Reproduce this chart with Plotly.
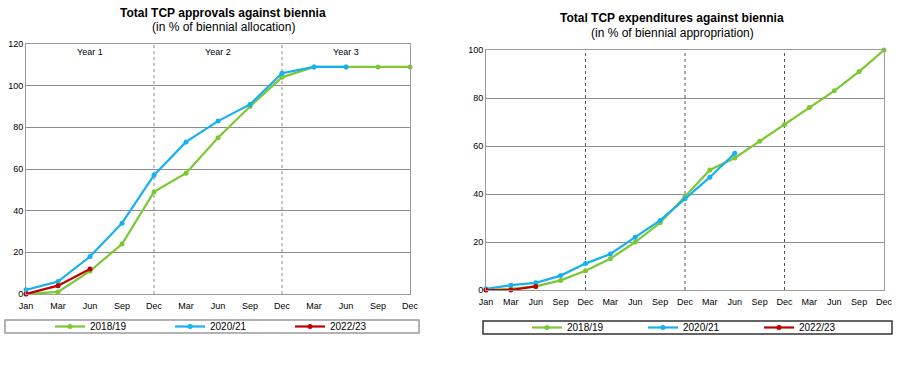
import plotly.graph_objects as go

# ---- data ----
months_left = ["Jan", "Mar", "Jun", "Sep", "Dec", "Mar", "Jun", "Sep", "Dec", "Mar", "Jun", "Sep", "Dec"]
months_right = ["Jan", "Mar", "Jun", "Sep", "Dec", "Mar", "Jun", "Sep", "Dec",
                "Mar", "Jun", "Sep", "Dec", "Mar", "Jun", "Sep", "Dec"]

appr_2018_19 = [0, 1, 11, 24, 49, 58, 75, 90, 104, 109, 109, 109, 109]
appr_2020_21 = [2, 6, 18, 34, 57, 73, 83, 91, 106, 109, 109]
appr_2022_23 = [0, 4, 12]

exp_2018_19 = [0, 0.5, 1.5, 4, 8, 13, 20, 28, 39, 50, 55, 62, 69, 76, 83, 91, 100]
exp_2020_21 = [0.5, 2, 3, 6, 11, 15, 22, 29, 38, 47, 57]
exp_2022_23 = [0, 0, 1.5]

year_labels = ["Year 1", "Year 2", "Year 3"]
series_names = ["2018/19", "2020/21", "2022/23"]
colors = ["#7DC734", "#16B0EE", "#C00000"]

FONT = "Liberation Sans, Arial, sans-serif"
W, H = 900, 369

fig = go.Figure()

left_series = [appr_2018_19, appr_2020_21, appr_2022_23]
right_series = [exp_2018_19, exp_2020_21, exp_2022_23]

for name, vals, col in zip(series_names, left_series, colors):
    fig.add_trace(go.Scatter(
        x=list(range(len(vals))), y=vals, name=name, mode="lines+markers",
        line=dict(color=col, width=2.2), marker=dict(color=col, size=5),
        cliponaxis=False, xaxis="x", yaxis="y", legend="legend"))

for name, vals, col in zip(series_names, right_series, colors):
    fig.add_trace(go.Scatter(
        x=list(range(len(vals))), y=vals, name=name, mode="lines+markers",
        line=dict(color=col, width=2.2), marker=dict(color=col, size=5),
        cliponaxis=False, xaxis="x2", yaxis="y2", legend="legend2"))

def px_x(p):
    return p / W

def px_y(p):
    return 1 - p / H

axis_common = dict(showgrid=False, zeroline=False, showline=True, linecolor="#9a9a9a",
                   linewidth=1, mirror=True, fixedrange=True,
                   tickfont=dict(family=FONT, size=9, color="#000"))

fig.update_layout(
    width=W, height=H, margin=dict(l=0, r=0, t=0, b=0, autoexpand=False),
    paper_bgcolor="white", plot_bgcolor="white",
    font=dict(family=FONT, color="#000"),
    xaxis=dict(axis_common, domain=[px_x(26), px_x(410)], range=[0, len(months_left) - 1],
               tickmode="array", tickvals=list(range(len(months_left))), ticktext=months_left,
               ticks="outside", ticklen=3, tickcolor="rgba(0,0,0,0)", anchor="y"),
    yaxis=dict(axis_common, domain=[px_y(294), px_y(44)], range=[0, 120], dtick=20, ticks="",
               showgrid=True, gridcolor="#8c8c8c", gridwidth=1, anchor="x"),
    xaxis2=dict(axis_common, domain=[px_x(486), px_x(884)], range=[0, len(months_right) - 1],
                tickmode="array", tickvals=list(range(len(months_right))), ticktext=months_right,
                ticks="outside", ticklen=3, tickcolor="rgba(0,0,0,0)", anchor="y2"),
    yaxis2=dict(axis_common, domain=[px_y(290), px_y(50)], range=[0, 100], dtick=20, ticks="",
                showgrid=True, gridcolor="#8c8c8c", gridwidth=1, anchor="x2"),
    legend=dict(orientation="h", x=px_x(50), xanchor="left", y=px_y(326.5), yanchor="middle",
                bgcolor="rgba(0,0,0,0)", borderwidth=0, entrywidth=75,
                font=dict(family=FONT, size=10, color="#000"), itemwidth=30),
    legend2=dict(orientation="h", x=px_x(527), xanchor="left", y=px_y(327.5), yanchor="middle",
                 bgcolor="rgba(0,0,0,0)", borderwidth=0, entrywidth=71,
                 font=dict(family=FONT, size=10, color="#000"), itemwidth=30),
    showlegend=True,
)

# vertical dotted year separators
for i, m in enumerate(months_left):
    if m == "Dec" and 0 < i < len(months_left) - 1:
        fig.add_shape(type="line", xref="x", yref="y domain", x0=i, x1=i, y0=0, y1=1,
                      line=dict(color="#8a8a8a", width=1, dash="dot"), layer="below")
for i, m in enumerate(months_right):
    if m == "Dec" and 0 < i < len(months_right) - 1:
        fig.add_shape(type="line", xref="x2", yref="y2 domain", x0=i, x1=i, y0=0, y1=1,
                      line=dict(color="#555555", width=1, dash="dot"), layer="below")

# legend boxes
fig.add_shape(type="rect", xref="paper", yref="paper", x0=px_x(5), x1=px_x(419),
              y0=px_y(333), y1=px_y(320), line=dict(color="#9a9a9a", width=1.5))
fig.add_shape(type="rect", xref="paper", yref="paper", x0=px_x(483), x1=px_x(892),
              y0=px_y(334), y1=px_y(321), line=dict(color="#333333", width=1.5))

# year labels
for k, lab in enumerate(year_labels):
    fig.add_annotation(x=2 + 4 * k, xref="x", y=0.995, yref="y domain", text=lab,
                       showarrow=False, xanchor="center", yanchor="top",
                       font=dict(family=FONT, size=9, color="#000"))

# titles
titles = [
    (223, 13, "<b>Total TCP approvals against biennia</b>"),
    (223, 27, "(in % of biennial allocation)"),
    (672, 18, "<b>Total TCP expenditures against biennia</b>"),
    (672, 33, "(in % of biennial appropriation)"),
]
for tx, ty, txt in titles:
    fig.add_annotation(x=px_x(tx), y=px_y(ty), xref="paper", yref="paper", text=txt,
                       showarrow=False, xanchor="center", yanchor="middle",
                       font=dict(family=FONT, size=12, color="#000"))

fig.write_html("out.html", config={"displayModeBar": False},
               post_script="document.body.style.margin='0';document.body.style.overflow='hidden';")
